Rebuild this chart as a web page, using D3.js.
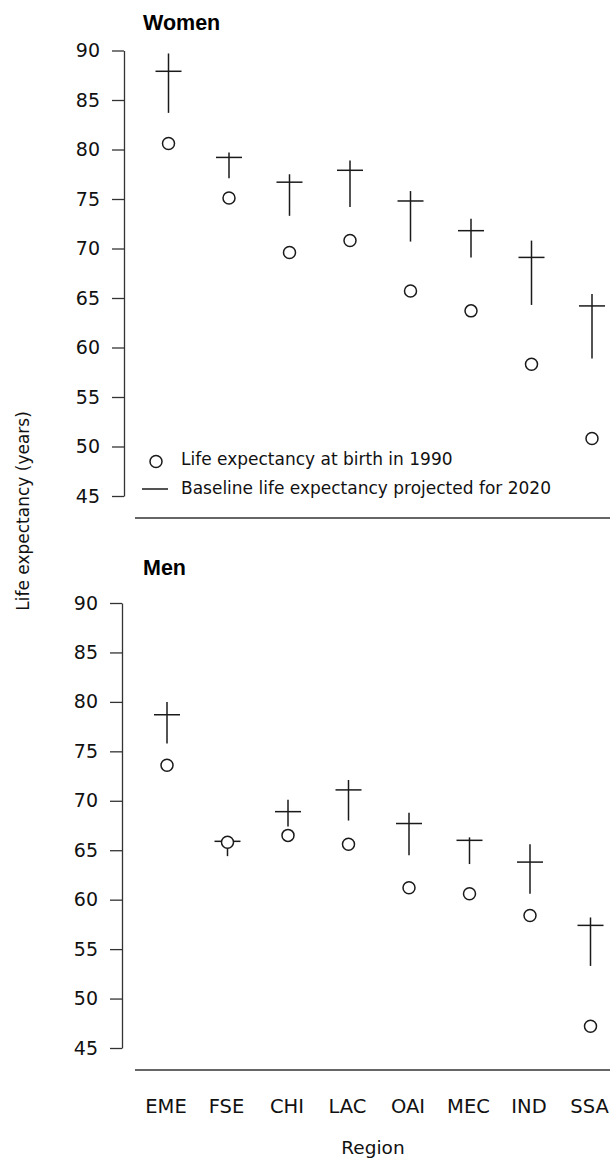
<!DOCTYPE html>
<html>
<head>
<meta charset="utf-8">
<script src="https://cdn.jsdelivr.net/npm/d3@7"></script>
<style>
body { margin: 0; background: #fff; }
svg { display: block; }
</style>
</head>
<body>
<svg class="canvas" width="610" height="1158"></svg>
<script>
// regions along the bottom
var regions = ["EME", "FSE", "CHI", "LAC", "OAI", "MEC", "IND", "SSA"];
var yTicks = [45, 50, 55, 60, 65, 70, 75, 80, 85, 90];

// women: 1990 value, 2020 baseline, and the range of the projection
var women1990 = [80.6, 75.1, 69.6, 70.8, 65.7, 63.7, 58.3, 50.8];
var women2020 = [87.9, 79.2, 76.7, 77.9, 74.8, 71.8, 69.1, 64.2];
var womenHigh = [89.7, 79.7, 77.5, 78.9, 75.8, 73.0, 70.8, 65.4];
var womenLow  = [83.7, 77.1, 73.3, 74.2, 70.7, 69.1, 64.3, 58.9];

// men
var men1990 = [73.6, 65.8, 66.5, 65.6, 61.2, 60.6, 58.4, 47.2];
var men2020 = [78.7, 65.9, 68.9, 71.1, 67.7, 66.0, 63.8, 57.4];
var menHigh = [80.0, 66.2, 70.1, 72.1, 68.8, 66.3, 65.6, 58.2];
var menLow  = [75.8, 64.4, 67.4, 68.0, 64.5, 63.6, 60.6, 53.3];

var svg = d3.select(".canvas");
var ink = "#1a1a1a";

function panel(title, titleY, axisX, top, bottom, xr, v1990, v2020, hi, lo){
	var x = d3.scalePoint().domain(regions).range(xr);
	var y = d3.scaleLinear().domain([90, 45]).range([top, bottom]);

	svg.append("text")
		.attr("x", 143).attr("y", titleY)
		.attr("font-family", "Liberation Sans, Arial, sans-serif")
		.attr("font-weight", "bold").attr("font-size", 21.5)
		.attr("fill", "#000")
		.text(title);

	var ax = svg.append("g")
		.attr("transform", "translate(" + axisX + ",0)")
		.call(d3.axisLeft(y).tickValues(yTicks).tickSize(12).tickSizeOuter(0).tickPadding(12));
	ax.selectAll("path, line").attr("stroke", "#333").attr("stroke-width", 1.3);
	ax.selectAll("text")
		.attr("font-family", "DejaVu Sans, sans-serif")
		.attr("font-size", 19).attr("fill", "#111");

	var rows = regions.map(function(r, i){
		return {r: r, a: v1990[i], b: v2020[i], hi: hi[i], lo: lo[i]};
	});

	var g = svg.append("g");
	// projection range
	g.selectAll(".vert").data(rows).enter().append("line")
		.attr("x1", function(d){ return x(d.r); })
		.attr("x2", function(d){ return x(d.r); })
		.attr("y1", function(d){ return y(d.hi); })
		.attr("y2", function(d){ return y(d.lo); })
		.attr("stroke", ink).attr("stroke-width", 1.5);
	// 2020 baseline
	g.selectAll(".hor").data(rows).enter().append("line")
		.attr("x1", function(d){ return x(d.r) - 13; })
		.attr("x2", function(d){ return x(d.r) + 13; })
		.attr("y1", function(d){ return y(d.b); })
		.attr("y2", function(d){ return y(d.b); })
		.attr("stroke", ink).attr("stroke-width", 1.5);
	// 1990
	g.selectAll("circle").data(rows).enter().append("circle")
		.attr("cx", function(d){ return x(d.r); })
		.attr("cy", function(d){ return y(d.a); })
		.attr("r", 6)
		.attr("fill", "#fff")
		.attr("stroke", ink).attr("stroke-width", 1.5);

	return x;
}

panel("Women", 30, 124, 50.5, 496, [168.5, 592], women1990, women2020, womenHigh, womenLow);
var xm = panel("Men", 575, 122, 603, 1048, [167, 590.5], men1990, men2020, menHigh, menLow);

// separators under each panel
[518, 1070].forEach(function(yy){
	svg.append("line")
		.attr("x1", 135).attr("x2", 610)
		.attr("y1", yy).attr("y2", yy)
		.attr("stroke", "#333").attr("stroke-width", 1.3);
});

// legend
svg.append("circle").attr("cx", 156).attr("cy", 461.5).attr("r", 6)
	.attr("fill", "#fff").attr("stroke", ink).attr("stroke-width", 1.5);
svg.append("line").attr("x1", 142).attr("x2", 168).attr("y1", 489).attr("y2", 489)
	.attr("stroke", ink).attr("stroke-width", 1.5);
var legendText = ["Life expectancy at birth in 1990", "Baseline life expectancy projected for 2020"];
svg.selectAll(".leg").data(legendText).enter().append("text")
	.attr("x", 181)
	.attr("y", function(d, i){ return 465 + i * 28.5; })
	.attr("font-family", "DejaVu Sans, sans-serif")
	.attr("font-size", 17).attr("fill", "#111")
	.text(function(d){ return d; });

// region labels
svg.selectAll(".reg").data(regions).enter().append("text")
	.attr("x", function(d){ return xm(d) - 1; })
	.attr("y", 1113)
	.attr("text-anchor", "middle")
	.attr("font-family", "DejaVu Sans, sans-serif")
	.attr("font-size", 19.5).attr("fill", "#111")
	.text(function(d){ return d; });

svg.append("text")
	.attr("x", 373).attr("y", 1154)
	.attr("text-anchor", "middle")
	.attr("font-family", "DejaVu Sans, sans-serif")
	.attr("font-size", 18.5).attr("fill", "#111")
	.text("Region");

svg.append("text")
	.attr("transform", "translate(29,511) rotate(-90)")
	.attr("text-anchor", "middle")
	.attr("font-family", "DejaVu Sans, sans-serif")
	.attr("font-size", 17).attr("fill", "#111")
	.text("Life expectancy (years)");
</script>
</body>
</html>
